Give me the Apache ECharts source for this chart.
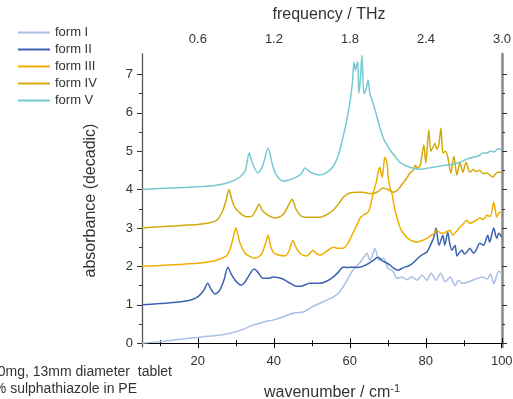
<!DOCTYPE html>
<html>
<head>
<meta charset="utf-8">
<script src="https://cdn.jsdelivr.net/npm/echarts@6/dist/echarts.min.js"></script>
<style>
html, body { margin: 0; padding: 0; background: #fff; }
#main { width: 513px; height: 399px; }
</style>
</head>
<body>
<div id="main"></div>
<script>
// wavenumber (cm-1) and absorbance, one pair of arrays per form
var formIWave = [5.3, 10, 15.3, 20, 22.4, 25, 28.5, 31.9, 34, 36.4, 38, 39.8, 42.4, 45, 47.7, 50, 52.1, 54, 55.6, 57, 58.2, 59.5, 60.8, 62.7, 63.8, 64.5, 65.3, 66, 66.6, 67.7, 68.9, 70, 71.4, 72.4, 73.8, 75, 76.4, 77.7, 79, 80.3, 81.4, 82.7, 83.9, 85.1, 86.4, 87.7, 88.6, 89.5, 91.3, 93.1, 94.8, 96.2, 97.1, 97.9, 99.2, 100];
var formIAbs = [0.0, 0.04, 0.1, 0.15, 0.18, 0.2, 0.26, 0.36, 0.45, 0.52, 0.57, 0.6, 0.68, 0.78, 0.81, 0.94, 1.04, 1.12, 1.2, 1.3, 1.46, 1.68, 1.9, 2.1, 2.25, 2.34, 2.16, 2.3, 2.47, 2.16, 2.21, 1.95, 1.87, 1.69, 1.72, 1.65, 1.72, 1.64, 1.77, 1.64, 1.82, 1.64, 1.82, 1.6, 1.72, 1.5, 1.64, 1.56, 1.6, 1.67, 1.72, 1.67, 1.8, 1.55, 1.87, 1.82];

var formIIWave = [5.3, 10, 15, 17.9, 19.5, 20.5, 21.6, 22.6, 23.5, 24.5, 25.8, 26.9, 27.9, 28.8, 29.8, 31.4, 32.3, 33.2, 34.8, 35.8, 37.1, 38.5, 39.8, 41, 42.4, 44, 46.1, 47.5, 49.5, 52.1, 54, 55.6, 57, 58.2, 59.5, 60.8, 62, 63.4, 65, 66.5, 67.4, 68.5, 69.5, 70.6, 71.6, 72.7, 74, 75.8, 76.8, 77.9, 79, 80.3, 81, 81.6, 82.1, 82.7, 83.1, 83.5, 84.5, 85, 85.8, 86.3, 86.9, 87.7, 88.2, 88.8, 89.5, 90.2, 90.8, 91.6, 92.6, 93.4, 94.2, 95.2, 96.3, 96.8, 97.9, 98.4, 98.7, 99.2, 100];
var formIIAbs = [1.0, 1.03, 1.07, 1.12, 1.18, 1.25, 1.38, 1.56, 1.4, 1.28, 1.38, 1.65, 1.98, 1.8, 1.64, 1.51, 1.58, 1.72, 1.93, 1.85, 1.69, 1.69, 1.72, 1.71, 1.67, 1.58, 1.48, 1.49, 1.56, 1.56, 1.62, 1.72, 1.85, 1.98, 1.97, 1.98, 1.97, 2.0, 2.08, 2.18, 2.24, 2.15, 2.1, 2.03, 1.95, 1.9, 1.96, 2.03, 2.1, 2.21, 2.3, 2.37, 2.5, 2.63, 2.75, 3.0, 2.75, 2.55, 2.81, 2.55, 2.89, 2.6, 2.42, 2.55, 2.27, 2.35, 2.42, 2.32, 2.37, 2.47, 2.34, 2.45, 2.6, 2.55, 2.81, 2.63, 3.0, 2.8, 2.73, 2.86, 2.76];

var formIIIWave = [5.3, 10, 15, 19.8, 23, 25, 26.5, 27.7, 28.5, 29.2, 30, 30.6, 31.1, 32.4, 33.5, 35, 36, 36.9, 37.8, 38.5, 39.1, 39.8, 41, 42.9, 44, 45, 45.8, 46.9, 48, 48.7, 49.6, 50.3, 51, 52.1, 54, 55.6, 57, 58.2, 59.5, 60.8, 62, 62.7, 63.8, 64.8, 65.5, 66.1, 66.6, 67.1, 67.4, 67.9, 68.5, 68.8, 69.2, 69.8, 70.1, 70.6, 71.1, 71.9, 73.2, 74.2, 75.3, 76.5, 77.7, 79.2, 80.2, 81.1, 82, 82.9, 83.7, 84.5, 85.4, 86.4, 87.1, 88, 89, 89.8, 90.8, 91.6, 92.4, 93.3, 94.2, 95.2, 96.1, 97, 97.9, 98.7, 99.3, 100];
var formIIIAbs = [2.0, 2.02, 2.05, 2.08, 2.12, 2.16, 2.22, 2.29, 2.45, 2.7, 3.0, 2.8, 2.6, 2.34, 2.27, 2.21, 2.25, 2.34, 2.6, 2.81, 2.55, 2.37, 2.3, 2.27, 2.4, 2.68, 2.5, 2.34, 2.28, 2.27, 2.35, 2.42, 2.35, 2.29, 2.4, 2.5, 2.47, 2.47, 2.6, 2.86, 3.1, 3.26, 3.35, 3.41, 3.6, 3.9, 4.06, 4.24, 4.43, 4.58, 4.32, 4.5, 4.84, 4.69, 4.33, 4.04, 3.9, 3.46, 3.02, 2.85, 2.73, 2.66, 2.63, 2.68, 2.72, 2.79, 2.84, 2.94, 2.88, 2.86, 2.9, 2.94, 2.81, 2.9, 3.02, 3.1, 3.2, 3.12, 3.15, 3.2, 3.26, 3.22, 3.33, 3.3, 3.67, 3.28, 3.4, 3.41];

var formIVWave = [5.3, 10, 15, 20, 22.4, 25, 26.6, 27.5, 28.2, 28.9, 29.8, 31, 31.9, 33, 34.2, 35.2, 36.1, 37, 37.7, 39, 40.3, 41.8, 42.9, 44, 44.8, 45.8, 46.9, 48, 49.5, 52.1, 54, 55.6, 57, 58.5, 60, 62, 63.4, 65, 66.1, 67.5, 68.7, 70, 71.4, 72.5, 73.2, 74, 75, 75.8, 76.7, 77.3, 77.7, 78.5, 79.5, 80, 80.8, 81.3, 81.9, 82.4, 82.9, 83.4, 84, 84.5, 85.2, 85.8, 86.6, 87.4, 88.2, 89, 89.8, 90.6, 91.6, 92.5, 93.3, 94.2, 95, 96, 96.8, 97.7, 98.3, 99, 100];
var formIVAbs = [3.0, 3.03, 3.06, 3.09, 3.12, 3.2, 3.46, 3.75, 4.0, 3.75, 3.52, 3.4, 3.33, 3.29, 3.3, 3.45, 3.62, 3.45, 3.39, 3.3, 3.26, 3.3, 3.41, 3.62, 3.75, 3.5, 3.33, 3.28, 3.28, 3.28, 3.35, 3.46, 3.62, 3.82, 3.91, 3.93, 3.93, 3.9, 3.9, 3.95, 4.04, 4.0, 3.93, 3.98, 4.06, 4.17, 4.3, 4.43, 4.5, 4.64, 4.55, 4.62, 5.16, 4.69, 5.55, 5.0, 5.1, 5.2, 5.05, 5.15, 5.6, 4.95, 5.0, 4.84, 4.43, 4.87, 4.38, 4.7, 4.45, 4.71, 4.45, 4.52, 4.47, 4.5, 4.42, 4.43, 4.38, 4.33, 4.4, 4.45, 4.45];

var formVWave = [5.3, 10, 15, 20, 24, 27, 29, 31, 32.5, 33.5, 34.3, 35.8, 37, 38.5, 39.5, 40.5, 42.4, 44, 46, 47.3, 48.2, 49, 50, 52.1, 54, 55.6, 57, 58.2, 59.2, 60, 60.7, 61.1, 61.5, 61.8, 62.1, 62.4, 62.8, 63.2, 63.7, 64.3, 64.8, 65.3, 66.1, 67, 67.9, 69, 70.6, 72, 73.2, 75.8, 78.5, 80, 81.9, 83, 85.6, 87, 89, 90.5, 92.4, 94, 95, 96.1, 97, 98, 99, 100];
var formVAbs = [4.0, 4.03, 4.05, 4.07, 4.1, 4.15, 4.22, 4.32, 4.5, 4.95, 4.7, 4.43, 4.6, 5.08, 4.7, 4.4, 4.22, 4.25, 4.33, 4.42, 4.56, 4.5, 4.43, 4.38, 4.45, 4.6, 4.9, 5.36, 5.8, 6.25, 6.8, 7.32, 7.1, 7.25, 7.32, 6.5, 6.9, 7.5, 6.5, 6.6, 6.85, 6.5, 6.25, 5.95, 5.62, 5.3, 5.03, 4.85, 4.71, 4.58, 4.53, 4.55, 4.58, 4.6, 4.64, 4.66, 4.71, 4.78, 4.84, 4.88, 4.95, 4.95, 5.0, 4.98, 5.06, 5.05];

var formNames = ['form I', 'form II', 'form III', 'form IV', 'form V'];
var formColors = ['#a9bfe6', '#3b62b1', '#f2ae00', '#d4a90c', '#76c9d3'];

var waveTicks = [20, 40, 60, 80, 100];
var waveMinor = [10, 30, 50, 70, 90];
var thzTicks = [0.6, 1.2, 1.8, 2.4, 3.0];
var thzMinor = [0.3, 0.9, 1.5, 2.1, 2.7];
var absTicks = [0, 1, 2, 3, 4, 5, 6, 7];
var absMinor = [0.5, 1.5, 2.5, 3.5, 4.5, 5.5, 6.5];

var CM_PER_THZ = 33.356;
var XMIN = 5.3, XMAX = 3.0 * CM_PER_THZ;
var YMIN = -0.1, YMAX = 7.53;

function pairs(xs, ys) {
	var out = [];
	for (var i = 0; i < xs.length; i++) {
		out.push([xs[i], ys[i]]);
	}
	return out;
}

var allWave = [formIWave, formIIWave, formIIIWave, formIVWave, formVWave];
var allAbs = [formIAbs, formIIAbs, formIIIAbs, formIVAbs, formVAbs];

var txt = '#333';
var font = 'Liberation Sans';

function xAx(pos, min, max, ticks, labels, len, extra) {
	var a = {
		type: 'value', position: pos, min: min, max: max,
		splitLine: {show: false},
		axisLine: {show: false},
		axisTick: {show: true, customValues: ticks, length: len, lineStyle: {color: '#000', width: 1}},
		axisLabel: labels ? {customValues: labels, color: txt, fontSize: 13, fontFamily: font, margin: 8} : {show: false}
	};
	for (var k in extra) a[k] = extra[k];
	return a;
}

var seriesList = [];
for (var i = 0; i < formNames.length; i++) {
	seriesList.push({
		name: formNames[i],
		type: 'line',
		xAxisIndex: 0,
		yAxisIndex: 0,
		data: pairs(allWave[i], allAbs[i]),
		symbol: 'none',
		smooth: 0.25,
		lineStyle: {color: formColors[i], width: 1.5},
		itemStyle: {color: formColors[i]},
		z: 2 + i
	});
}

var legendData = [];
for (var j = 0; j < formNames.length; j++) {
	legendData.push({name: formNames[j], icon: 'rect'});
}

var opt = {
	animation: false,
	backgroundColor: '#fff',
	textStyle: {fontFamily: font},
	grid: {left: 142, right: 11, top: 54, bottom: 52, containLabel: false, outerBoundsMode: 'none'},
	legend: {
		orient: 'vertical', left: 13, top: 20,
		itemWidth: 32, itemHeight: 2, itemGap: 2,
		data: legendData,
		textStyle: {color: txt, fontSize: 13, fontFamily: font, lineHeight: 15}
	},
	xAxis: [
		xAx('bottom', XMIN, XMAX, waveTicks, waveTicks, 5, {
			axisLine: {show: true, lineStyle: {color: '#000', width: 1.2}},
			name: 'wavenumber / cm{sup|-1}', nameLocation: 'middle', nameGap: 36,
			nameTextStyle: {color: txt, fontSize: 16, fontFamily: font, padding: [0, 0, 0, 20],
				rich: {sup: {fontSize: 11, fontFamily: font, color: txt, verticalAlign: 'top', padding: [0, 0, 9, 0]}}}
		}),
		xAx('bottom', XMIN, XMAX, waveMinor, null, 3, {}),
		xAx('top', XMIN / CM_PER_THZ, 3.0, thzTicks, null, 5, {
			axisLine: {show: true, lineStyle: {color: '#000', width: 1.2}},
			axisLabel: {customValues: thzTicks, color: txt, fontSize: 13, fontFamily: font, margin: 8,
				formatter: function (v) { return v.toFixed(1); }},
			name: 'frequency / THz', nameLocation: 'middle', nameGap: 31,
			nameTextStyle: {color: txt, fontSize: 16, fontFamily: font, padding: [0, 0, 0, 14]}
		}),
		xAx('top', XMIN / CM_PER_THZ, 3.0, thzMinor, null, 3, {})
	],
	yAxis: [
		{
			type: 'value', position: 'left', min: YMIN, max: YMAX,
			splitLine: {show: false},
			axisLine: {show: true, lineStyle: {color: '#555', width: 1.3}},
			axisTick: {customValues: absTicks, length: 5, lineStyle: {color: '#333'}},
			axisLabel: {customValues: absTicks, color: txt, fontSize: 13, fontFamily: font, margin: 9},
			name: 'absorbance (decadic)', nameLocation: 'middle', nameGap: 43,
			nameTextStyle: {color: txt, fontSize: 16, fontFamily: font}
		},
		{
			type: 'value', position: 'left', min: YMIN, max: YMAX,
			splitLine: {show: false}, axisLine: {show: false},
			axisTick: {customValues: absMinor, length: 3, lineStyle: {color: '#333'}},
			axisLabel: {show: false}
		},
		{
			type: 'value', position: 'right', min: YMIN, max: YMAX,
			splitLine: {show: false},
			axisLine: {show: true, lineStyle: {color: '#888', width: 2.5}},
			axisTick: {customValues: absTicks, length: 5, lineStyle: {color: '#333'}},
			axisLabel: {show: false}
		},
		{
			type: 'value', position: 'right', min: YMIN, max: YMAX,
			splitLine: {show: false}, axisLine: {show: false},
			axisTick: {customValues: absMinor, length: 3, lineStyle: {color: '#333'}},
			axisLabel: {show: false}
		}
	],
	graphic: [
		{type: 'text', right: 513 - 172, top: 365,
			style: {text: '10mg, 13mm diameter  tablet', fill: txt, font: '14px "Liberation Sans"'}},
		{type: 'text', right: 513 - 137, top: 382,
			style: {text: '10% sulphathiazole in PE', fill: txt, font: '14px "Liberation Sans"'}}
	],
	series: seriesList
};

var chart = echarts.init(document.getElementById('main'));
chart.setOption(opt);
</script>
</body>
</html>
